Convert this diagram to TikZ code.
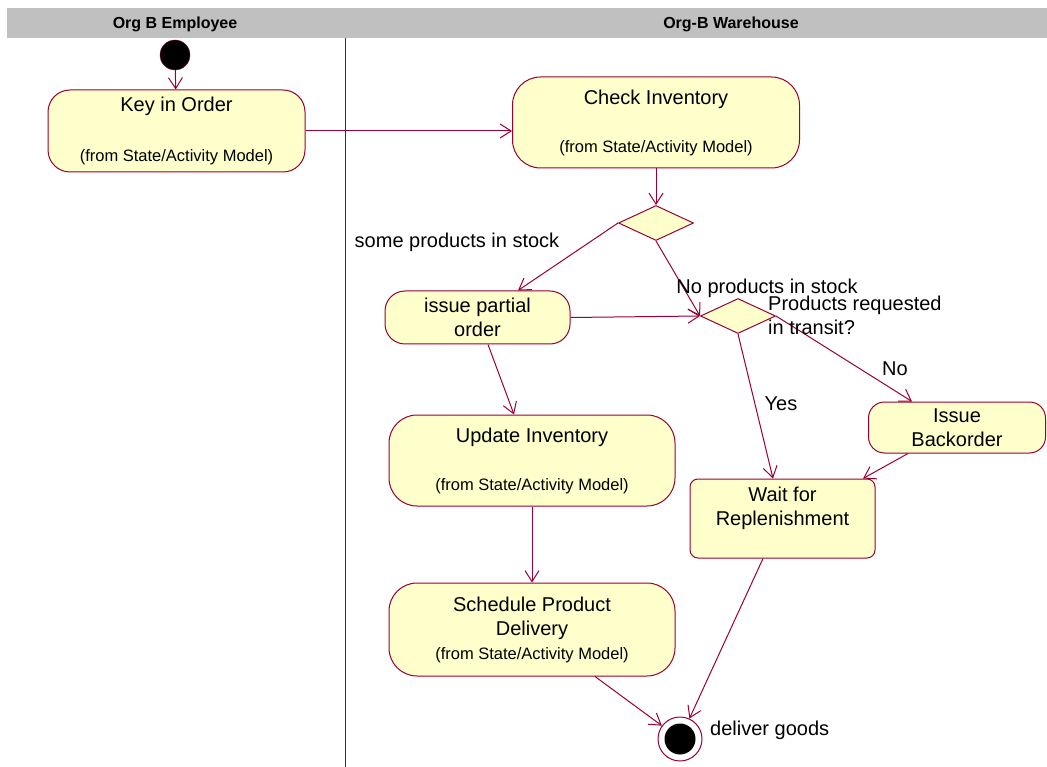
\documentclass[tikz,border=0pt]{standalone}
\usepackage{fontspec}
\setmainfont{Liberation Sans}
\usetikzlibrary{arrows.meta,shapes.geometric}
\definecolor{umlline}{RGB}{153,0,51}
\definecolor{umlfill}{RGB}{255,255,204}
\definecolor{lanegray}{RGB}{192,192,192}
\newcommand{\frommodel}{{\fontsize{16.5}{20}\selectfont (from State/Activity Model)}}

\begin{document}
\begin{tikzpicture}[x=1pt,y=-1pt,
    activity/.style={draw=umlline, line width=1pt, fill=umlfill, rounded corners=22pt, align=center, inner sep=0pt, font=\fontsize{20}{24}\selectfont},
    waitbox/.style={draw=umlline, line width=1pt, fill=umlfill, rounded corners=8pt, align=center, inner sep=0pt, font=\fontsize{20}{24}\selectfont},
    decision/.style={diamond, draw=umlline, line width=1pt, fill=umlfill, minimum width=75pt, minimum height=35pt, inner sep=0pt},
    flow/.style={draw=umlline, line width=1pt, -{Straight Barb[length=11pt,width=14pt]}},
    guard/.style={inner sep=0pt, font=\fontsize{20}{24}\selectfont},
    lanehead/.style={inner sep=0pt, font=\fontsize{16}{19}\selectfont\bfseries}]
    \useasboundingbox (0,0) rectangle (1047,767);

    % swimlanes
    \fill[lanegray] (7,8) rectangle (1047,38);
    \node[lanehead] (employee) at (175,24) {Org B Employee};
    \node[lanehead] (warehouse) at (731,24) {Org-B Warehouse};
    \draw[umlline, line width=1pt] (345,38) -- (345,767);

    % states
    \node[circle, fill=black, draw=umlline, minimum size=30pt, inner sep=0pt] (start) at (175,55) {};
    \node[activity, minimum width=257pt, minimum height=82pt] (keyorder) at (176.5,131) {Key in Order\\[26pt]\frommodel};
    \node[activity, rounded corners=28pt, minimum width=287pt, minimum height=91pt] (checkinv) at (656,122.5) {Check Inventory\\[24pt]\frommodel};
    \node[decision] (split) at (656,223) {};
    \node[activity, rounded corners=20pt, minimum width=185pt, minimum height=53pt] (partial) at (477.5,317.5) {issue partial\\order};
    \node[decision] (transit) at (738,316) {};
    \node[activity, rounded corners=16pt, minimum width=177pt, minimum height=51pt] (backorder) at (957,427.5) {Issue\\Backorder};
    \node[waitbox, minimum width=185pt, minimum height=79pt] (wait) at (782.5,518.5) {Wait for\\Replenishment\\~};
    \node[activity, rounded corners=28pt, minimum width=286pt, minimum height=91pt] (update) at (532,460.5) {Update Inventory\\[24pt]\frommodel};
    \node[activity, rounded corners=28pt, minimum width=286pt, minimum height=93pt] (schedule) at (532,629.5) {Schedule Product\\Delivery\\\frommodel};
    \node[circle, draw=umlline, line width=1pt, fill=white, minimum size=44pt, inner sep=0pt] (stop) at (680,739) {};
    \node[circle, fill=black, minimum size=31pt, inner sep=0pt] (stopdot) at (stop) {};

    % transitions
    \draw[flow] (start) -- (keyorder);
    \draw[flow] (keyorder.east) -- (checkinv.west |- keyorder.east);
    \draw[flow] (checkinv.south) -- (split.north);
    \draw[flow] (split.west) -- ([xshift=40.5pt]partial.north);
    \draw[flow] (split.south) -- (transit.west);
    \draw[flow] (partial.east) -- (transit.west);
    \draw[flow] (transit.east) -- ([xshift=-45pt]backorder.north);
    \draw[flow] (transit.south) -- ([xshift=-9.5pt]wait.north);
    \draw[flow] ([xshift=-49pt]backorder.south) -- ([xshift=80.5pt]wait.north);
    \draw[flow] ([xshift=10.5pt]partial.south) -- ([xshift=-18pt]update.north);
    \draw[flow] (update.south) -- (schedule.north);
    \draw[flow] ([xshift=63pt]schedule.south) -- (stop);
    \draw[flow] ([xshift=-19.5pt]wait.south) -- (stop);

    % guards
    \node[guard] (somestock) at (457,242) {some products in stock};
    \node[guard] (nostock) at (767,288) {No products in stock};
    \node[guard, align=left, anchor=west] (intransit) at (768,315) {Products requested\\in transit?};
    \node[guard] (nolabel) at (895,369) {No};
    \node[guard] (yeslabel) at (781,404) {Yes};
    \node[guard, anchor=west] (delivered) at (710,730) {deliver goods};
\end{tikzpicture}
\end{document}
